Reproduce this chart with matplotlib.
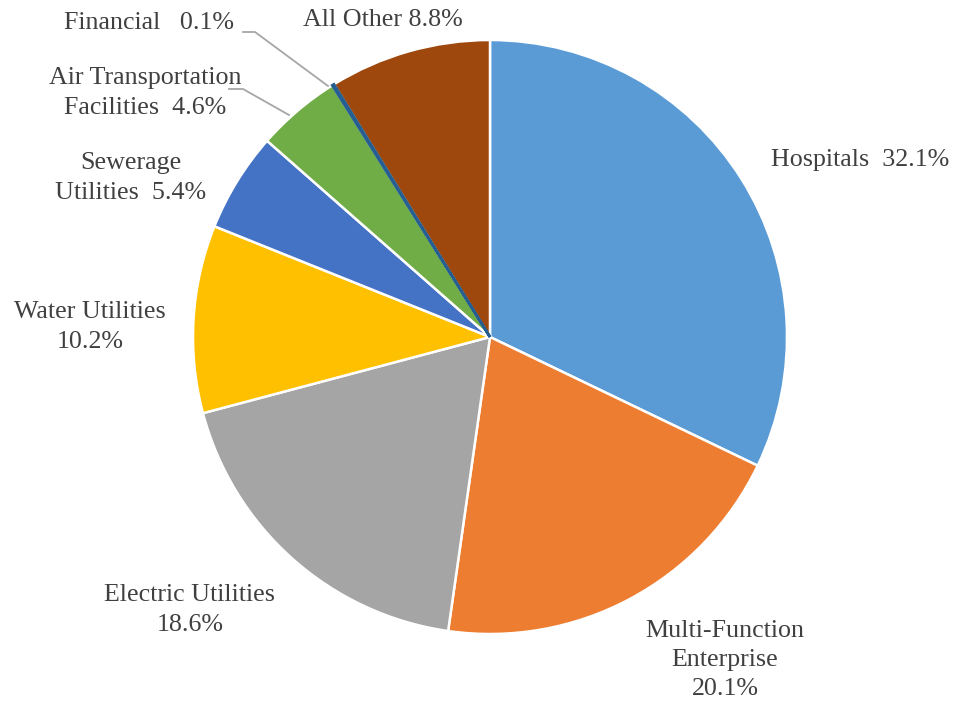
import matplotlib
matplotlib.use("Agg")
import matplotlib.pyplot as plt

labels = ["Hospitals", "Multi-Function Enterprise", "Electric Utilities", "Water Utilities",
          "Sewerage Utilities", "Air Transportation Facilities", "Financial", "All Other"]
values = [32.1, 20.1, 18.6, 10.2, 5.4, 4.6, 0.1, 8.8]
colors = ["#5B9BD5", "#ED7D31", "#A5A5A5", "#FFC000", "#4472C4", "#70AD47", "#255E91", "#9E480E"]
label_texts = ["Hospitals  32.1%", "Multi-Function\nEnterprise\n20.1%", "Electric Utilities\n18.6%",
               "Water Utilities\n10.2%", "Sewerage\nUtilities  5.4%", "Air Transportation\nFacilities  4.6%",
               "Financial   0.1%", "All Other 8.8%"]

W, H = 954, 702
cx, cy, R = 490, 337, 297

def P(px, py):
    return ((px - cx) / R, (cy - py) / R)

fig = plt.figure(figsize=(W / 100, H / 100), dpi=100)
ax = fig.add_axes([0, 0, 1, 1])

wedges, _ = ax.pie(values, colors=colors, startangle=90, counterclock=False, radius=1.0,
                   center=(0, 0), frame=True,
                   wedgeprops=dict(edgecolor="white", linewidth=1.8))
ax.set_xlim(P(0, 0)[0], P(W, 0)[0])
ax.set_ylim(P(0, H)[1], P(0, 0)[1])
ax.set_aspect("auto")
ax.axis("off")
# keep the tiny slice visible
wedges[6].set_edgecolor(colors[6])
wedges[6].set_linewidth(2.0)
wedges[6].set_zorder(3)

font = dict(family="Liberation Serif", fontsize=18.7, color="#404040")
pos_px = [(860, 160), (725, 660), (190, 610), (90, 327), (131, 178), (145, 93), (149, 23), (383, 20)]
for t, (px, py) in zip(label_texts, pos_px):
    x, y = P(px, py)
    ax.text(x, y, t, ha="center", va="center", linespacing=1.42, **font)

for pts in [[(243, 32), (255, 32), (328, 86)], [(229, 89), (243, 89), (289, 115)]]:
    xs = [P(*p)[0] for p in pts]
    ys = [P(*p)[1] for p in pts]
    ax.plot(xs, ys, color="#A6A6A6", lw=1.3)

fig.savefig("out.png", dpi=100)
